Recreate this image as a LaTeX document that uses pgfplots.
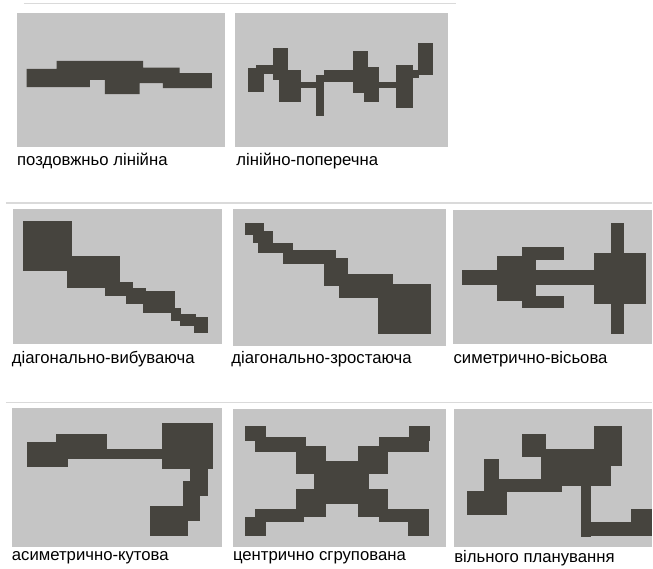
\documentclass[border=0pt]{standalone}
\usepackage{pgfplots}
\pgfplotsset{compat=1.18}
\usepackage{fontspec}
\setmainfont{Liberation Sans}
\definecolor{bgg}{HTML}{C5C5C5}
\definecolor{shp}{HTML}{46443E}
\definecolor{sep}{HTML}{DADADA}
\newcommand{\bg}[4]{\addplot[fill=bgg,draw=none] coordinates {(#1,#3)(#2,#3)(#2,#4)(#1,#4)};}
\newcommand{\rc}[4]{\addplot[fill=shp,draw=none] coordinates {(#1,#3)(#2,#3)(#2,#4)(#1,#4)};}
\begin{document}
\begin{tikzpicture}
\begin{axis}[width=653bp,height=570bp,scale only axis,xmin=0,xmax=653,ymin=0,ymax=570,
  y dir=reverse,hide axis,clip=false]
\addplot[fill=white,draw=none] coordinates {(0,0)(653,0)(653,570)(0,570)};
% separators
\addplot[draw=sep,line width=1pt] coordinates {(24,4)(457,4)};
\addplot[draw=sep,line width=2.5pt] coordinates {(6,203.5)(653,203.5)};
\addplot[draw=sep,line width=1.5pt] coordinates {(6,403.5)(653,403.5)};
% backgrounds
\bg{17.5}{225}{13}{147}
\bg{235}{449}{13}{147}
\bg{12.7}{222.7}{209}{345}
\bg{233.3}{446.7}{209}{347}
\bg{454.3}{653}{210}{345}
\bg{11.7}{222.7}{409}{548}
\bg{233.3}{446.7}{410}{548}
\bg{455}{653}{410}{548}
% panel 1
\addplot[fill=shp,draw=none] coordinates {(26.7,69)(56.7,69)(56.7,61)(143.3,61)(143.3,67.7)(180,67.7)(180,73.3)(212.3,73.3)(212.3,88.3)(163.3,88.3)(163.3,83.3)(140,83.3)(140,94.3)(105,94.3)(105,80)(90,80)(90,87.3)(26.7,87.3)};
% panel 2
\rc{248.3}{265}{68.3}{91.7}
\rc{256.7}{273.3}{65}{74}
\rc{273.3}{288.3}{47.7}{80}
\rc{280}{301.7}{70}{101.7}
\rc{300}{318.3}{81.7}{88.3}
\rc{316.7}{325}{75}{116}
\rc{325}{353.3}{70}{81.7}
\rc{353.3}{368.3}{50.7}{93.3}
\rc{365}{380}{66.7}{101.7}
\rc{378.3}{398.3}{81.7}{88.3}
\rc{396.7}{413.3}{65}{108.3}
\rc{411.7}{420}{70}{78.3}
\rc{418.3}{434.3}{42.7}{75}
% panel 3
\rc{23.3}{71.7}{221}{271.7}
\rc{66.7}{120}{256}{288.3}
\rc{105}{133.3}{282.3}{296.7}
\rc{126.7}{146.7}{288.3}{305}
\rc{143.3}{175}{291.7}{313.3}
\rc{171.7}{181.7}{308.3}{321.7}
\rc{180}{196.7}{315}{326.7}
\rc{194.3}{208.3}{317.7}{333.3}
% panel 4
\rc{245.7}{265}{223.3}{235}
\rc{253.3}{273.3}{231.7}{243.3}
\rc{258.3}{293.3}{243.3}{253.3}
\rc{283.3}{336.7}{250}{265}
\rc{325}{348.3}{258.3}{286.7}
\rc{340}{393.3}{275}{298.3}
\rc{378.3}{431.7}{285}{335}
% panel 5
\rc{463.3}{595}{271}{285.7}
\rc{498.3}{536.7}{256.7}{301.7}
\rc{523.3}{565}{247.7}{260}
\rc{523.3}{565}{296.7}{308.3}
\rc{595}{647.7}{253.3}{305}
\rc{611.7}{625}{223.3}{335}
% panel 6
\rc{27.3}{68.3}{442.7}{467.7}
\rc{56}{107.3}{435}{460}
\rc{107.3}{163.3}{450}{460}
\rc{162.7}{213.3}{424.3}{470}
\rc{190}{208.3}{468.3}{496.7}
\rc{183.3}{200}{482.3}{521.7}
\rc{150.7}{188.3}{506.7}{536.7}
% panel 7
\rc{245.7}{266.7}{426.7}{442.3}
\rc{255}{306.7}{438.3}{453.3}
\rc{296.7}{326.7}{446.7}{475}
\rc{315}{370}{461.7}{505}
\rc{410}{431}{426.7}{442.3}
\rc{380}{430}{438.3}{453.3}
\rc{358.3}{388.3}{446.7}{475}
\rc{296.7}{326.7}{490}{518.3}
\rc{255}{305}{510}{523.3}
\rc{245.7}{266.7}{518.3}{536.7}
\rc{358.3}{388.3}{490}{518.3}
\rc{380}{430}{510}{523.3}
\rc{408.3}{430}{520}{536.7}
% panel 8
\rc{467.7}{508.3}{491.7}{515.7}
\rc{485}{500}{460}{482}
\rc{485}{563.3}{480}{493.3}
\rc{523.3}{546.7}{435}{458.3}
\rc{541.7}{611.7}{450}{486.7}
\rc{595}{623.3}{426.7}{466.7}
\rc{581.7}{591.7}{485}{538.3}
\rc{591.7}{653}{523.3}{536.7}
\rc{631.7}{653}{510}{536.7}
% labels
\tikzset{lb/.style={anchor=west,inner sep=0pt,font=\fontsize{16.8}{18}\selectfont}}
\node[lb] at (axis cs:17,161) {поздовжньо лінійна};
\node[lb] at (axis cs:236.7,161) {лінійно-поперечна};
\node[lb] at (axis cs:11.7,360) {діагонально-вибуваюча};
\node[lb] at (axis cs:231.7,360) {діагонально-зростаюча};
\node[lb] at (axis cs:454.3,360) {симетрично-вісьова};
\node[lb] at (axis cs:11.7,559) {асиметрично-кутова};
\node[lb] at (axis cs:233.3,559) {центрично сгрупована};
\node[lb] at (axis cs:455,559) {вільного планування};
\end{axis}
\end{tikzpicture}
\end{document}
